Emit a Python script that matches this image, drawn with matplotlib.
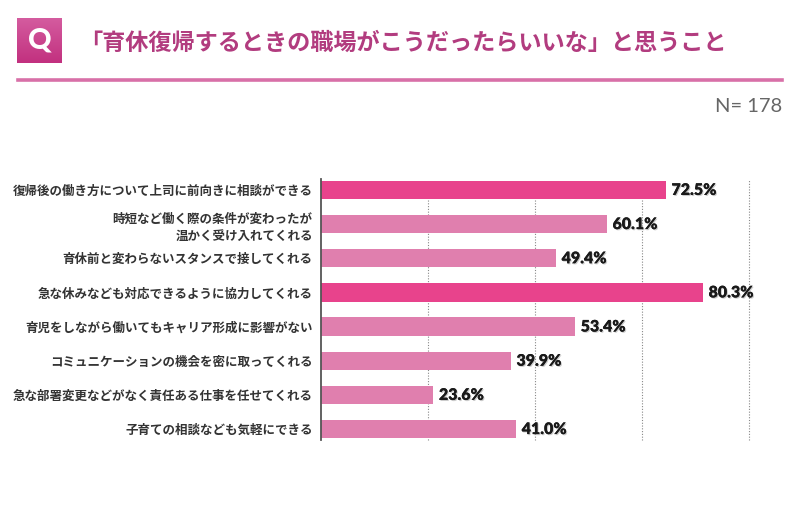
import matplotlib
matplotlib.use("Agg")
import matplotlib.pyplot as plt
import numpy as np
from matplotlib.lines import Line2D
import matplotlib.patheffects as pe
from matplotlib.colors import LinearSegmentedColormap

plt.rcParams['font.family'] = ['Noto Sans CJK JP', 'DejaVu Sans']

categories = [
    "復帰後の働き方について上司に前向きに相談ができる",
    "時短など働く際の条件が変わったが\n温かく受け入れてくれる",
    "育休前と変わらないスタンスで接してくれる",
    "急な休みなども対応できるように協力してくれる",
    "育児をしながら働いてもキャリア形成に影響がない",
    "コミュニケーションの機会を密に取ってくれる",
    "急な部署変更などがなく責任ある仕事を任せてくれる",
    "子育ての相談なども気軽にできる",
]
values = [72.5, 60.1, 49.4, 80.3, 53.4, 39.9, 23.6, 41.0]
highlight = [True, False, False, True, False, False, False, False]
title = "「育休復帰するときの職場がこうだったらいいな」と思うこと"
n_label = "N= 178"

dark_pink = "#E8438C"
light_pink = "#E07FAE"

fig = plt.figure(figsize=(8, 5.16), dpi=100)
fig.patch.set_facecolor("white")

# Header: Q box with gradient
qax = fig.add_axes([17/800, 1-63/516, 45/800, 45/516])
grad = np.linspace(0, 1, 100).reshape(-1, 1)
cmap = LinearSegmentedColormap.from_list("q", ["#D45C9F", "#C2307F"])
qax.imshow(grad, aspect="auto", cmap=cmap, extent=[0, 1, 0, 1], origin="upper")
qax.set_xlim(0, 1); qax.set_ylim(0, 1)
qax.axis("off")
qax.text(0.5, 0.5, "Q", color="white", fontsize=21, fontweight="black",
         ha="center", va="center", family=["Lato", "DejaVu Sans"])

fig.text(79/800, 1-43/516, title, fontsize=16.7, fontweight="bold",
         color="#B23C7F", ha="left", va="center")
fig.add_artist(Line2D([18/800, 782/800], [1-79.5/516, 1-79.5/516],
                      color="#D870A8", lw=2.6, transform=fig.transFigure))
fig.text(782/800, 1-106.5/516, n_label, fontsize=14.5, color="#666666",
         ha="right", va="center", family=["Lato", "DejaVu Sans"], fontweight="normal")

# Main chart
ax = fig.add_axes([321/800, 1-440/516, (749-321)/800, (440-179)/516])
y = np.arange(len(categories))
colors = [dark_pink if h else light_pink for h in highlight]
ax.barh(y, values, height=0.54, color=colors, zorder=3)
ax.set_xlim(0, 90)
ax.set_ylim(len(categories) - 1 + 0.32, -0.32)
ax.set_xticks([22.5, 45, 67.5, 90])
ax.xaxis.grid(True, linestyle=(0, (1, 1.5)), color="#888888", lw=0.8, zorder=0)
for gl in ax.get_xgridlines():
    gl.set_clip_on(False)
ax.tick_params(axis="x", length=0, labelbottom=False)
ax.set_yticks(y)
ax.set_yticklabels(categories, fontsize=9.0, fontweight="bold", color="#333333",
                   linespacing=1.45)
ax.tick_params(axis="y", length=0, pad=6)
for s in ["top", "right", "bottom"]:
    ax.spines[s].set_visible(False)
ax.spines["left"].set_color("#555555")
ax.spines["left"].set_linewidth(1.3)
ax.spines["left"].set_zorder(4)

for yi, v in zip(y, values):
    ax.text(v + 1.2, yi, f"{v:.1f}%", va="center", ha="left", fontsize=11.5,
            fontweight="heavy", color="#1a1a1a", family=["Lato", "DejaVu Sans"],
            zorder=5, clip_on=False,
            path_effects=[pe.withSimplePatchShadow(offset=(0.8, -0.8), shadow_rgbFace="#999999", alpha=0.5), pe.Normal()])

fig.savefig("out.png", dpi=100, facecolor="white")
